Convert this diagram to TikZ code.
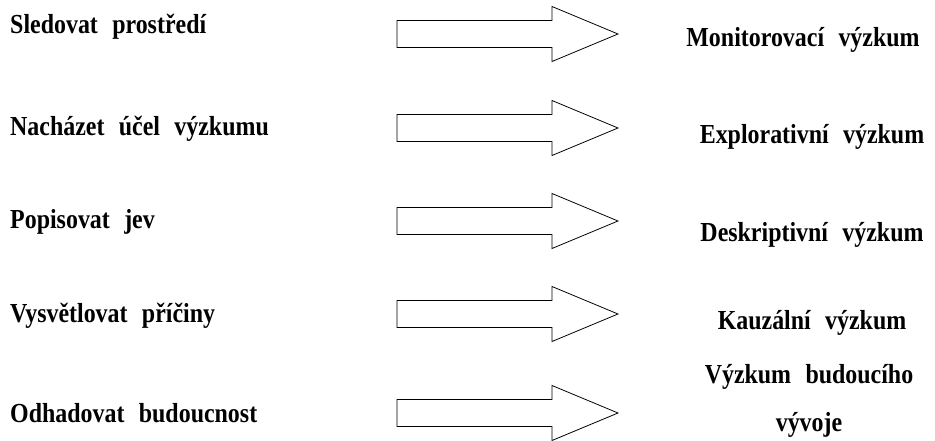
\documentclass[tikz,border=0pt]{standalone}
\usepackage{fontspec}
\setmainfont[FakeStretch=0.87, WordSpace=2.4]{Liberation Serif}
\begin{document}
\begin{tikzpicture}
                [x=1pt, y=-1pt,
                 goal/.style={anchor=base west, inner sep=0pt, font=\fontsize{27.5}{30}\selectfont\bfseries},
                 kind/.style={anchor=base, inner sep=0pt, align=center, font=\fontsize{27.5}{48}\selectfont\bfseries},
                 bigarrow/.style={draw, thick, fill=white}]
                \useasboundingbox (0,0) rectangle (935,441);
                % Define goals
                \node[goal] (g1) at (10,34) {Sledovat prostředí};
                \node[goal] (g2) at (10,136) {Nacházet účel výzkumu};
                \node[goal] (g3) at (10,229) {Popisovat jev};
                \node[goal] (g4) at (10,322) {Vysvětlovat příčiny};
                \node[goal] (g5) at (10,422) {Odhadovat budoucnost};
                % Define kinds of research
                \node[kind] (k1) at (803,47) {Monitorovací výzkum};
                \node[kind] (k2) at (812,144) {Explorativní výzkum};
                \node[kind] (k3) at (812,241) {Deskriptivní výzkum};
                \node[kind] (k4) at (812,329) {Kauzální výzkum};
                \node[kind] (k5) at (809,431) {Výzkum budoucího\\vývoje};
                % Define arrows
                \foreach \y in {34,128,221,314,413}
                    \draw[bigarrow] (397,\y-13.5) -- (552,\y-13.5) -- (552,\y-27.5) -- (618,\y)
                        -- (552,\y+27.5) -- (552,\y+13.5) -- (397,\y+13.5) -- cycle;
            \end{tikzpicture}
\end{document}
